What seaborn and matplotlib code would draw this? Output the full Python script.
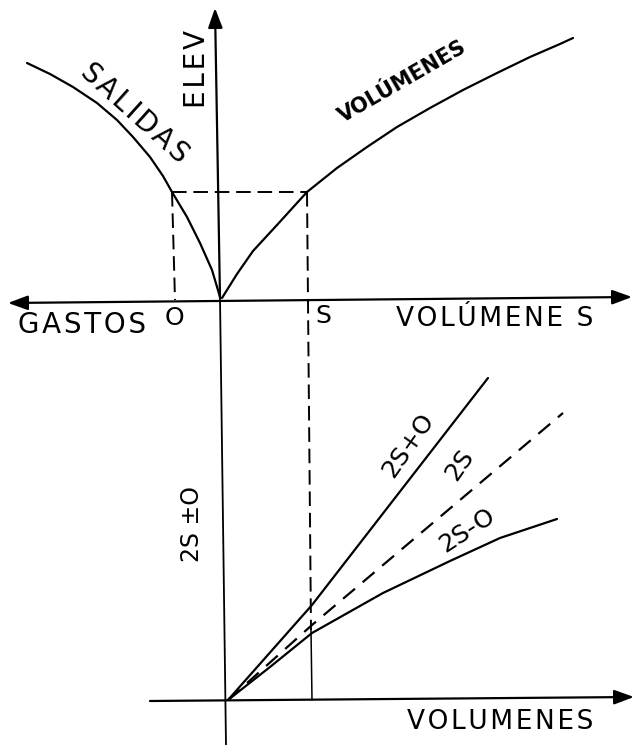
import numpy as np
import pandas as pd
import matplotlib
matplotlib.use("Agg")
import matplotlib.pyplot as plt
import seaborn as sns

sns.set_theme(style="white")
plt.rcParams['font.family'] = ['DejaVu Sans']
plt.rcParams['text.color'] = 'black'

# curves (pixel-like units, y grows downwards)
salidas_x = [27, 50, 73, 97, 117, 133, 150, 163, 172, 187, 200, 212, 220]
salidas_y = [63, 74, 87, 103, 120, 137, 157, 176, 192, 217, 243, 270, 297]

vol_x = [222, 237, 253, 277, 307, 337, 367, 397, 430, 463, 497, 530, 560, 573]
vol_y = [298, 274, 251, 225, 192, 168, 147, 127, 108, 90, 73, 57, 44, 38]

mas_x = [228, 312, 488]
mas_y = [700, 605, 378]

dos_x = [228, 312, 563]
dos_y = [700, 625, 413]

menos_x = [228, 270, 312, 383, 450, 500, 557]
menos_y = [700, 667, 633, 593, 561, 538, 519]


def spaced(s):
    return '\u200a'.join(s)


fig, ax = plt.subplots(figsize=(6.34, 7.45), dpi=100)
fig.subplots_adjust(left=0, right=1, bottom=0, top=1)
ax.set_xlim(0, 634)
ax.set_ylim(745, 0)
ax.axis('off')

lw = 1.6
for xs, ys, st in [(salidas_x, salidas_y, '-'), (vol_x, vol_y, '-'),
                   (mas_x, mas_y, '-'), (dos_x, dos_y, (0, (7, 4.5))),
                   (menos_x, menos_y, '-')]:
    df = pd.DataFrame({'x': xs, 'y': ys})
    sns.lineplot(data=df, x='x', y='y', sort=False, color='black', lw=lw,
                 linestyle=st, ax=ax)

head = '-|>,head_length=0.6,head_width=0.22'
arrow = dict(arrowstyle=head, color='black', lw=lw, mutation_scale=20,
             shrinkA=0, shrinkB=0)
arrow2 = dict(arrowstyle='<|-|>,head_length=0.6,head_width=0.22', color='black',
              lw=lw, mutation_scale=20, shrinkA=0, shrinkB=0)
# upper axes
ax.annotate('', xy=(632, 297), xytext=(8, 303), arrowprops=arrow2)
ax.annotate('', xy=(215, 8), xytext=(220, 298), arrowprops=arrow)
# lower axes
ax.plot([220, 226], [298, 745], color='black', lw=1.3)
ax.annotate('', xy=(634, 697), xytext=(150, 701), arrowprops=arrow)

# projection lines
dash = dict(color='black', lw=1.4, linestyle=(0, (7.5, 3.5)))
ax.plot([172, 307], [192, 192], **dash)
ax.plot([172, 175], [192, 300], **dash)
ax.plot([307, 311], [192, 630], **dash)
ax.plot([311, 312], [630, 700], color='black', lw=1.1)

# labels
ax.text(197, 69, spaced('ELEV'), rotation=90, fontsize=20, ha='center',
        va='center')
ax.text(134, 113, spaced('SALIDAS'), rotation=-42, fontsize=20, ha='center',
        va='center', rotation_mode='anchor')
ax.text(402, 82, 'VOLÚMENES', rotation=30, fontsize=15, fontweight='bold',
        ha='center', va='center', rotation_mode='anchor')
ax.text(18, 325, spaced('GASTOS'), fontsize=20, ha='left', va='center')
ax.text(174, 318, 'O', fontsize=18, ha='center', va='center')
ax.text(323, 316, 'S', fontsize=18, ha='center', va='center')
ax.text(495, 319, spaced('VOLÚMENE S'), fontsize=19, ha='center', va='center')
ax.text(408, 445, '2S+O', rotation=55, fontsize=18, ha='center', va='center',
        rotation_mode='anchor')
ax.text(460, 465, '2S', rotation=55, fontsize=18, ha='center', va='center',
        rotation_mode='anchor')
ax.text(467, 530, '2S-O', rotation=33, fontsize=18, ha='center', va='center',
        rotation_mode='anchor')
ax.text(192, 524, '2S ±O', rotation=90, fontsize=17, ha='center', va='center')
ax.text(500, 722, spaced('VOLUMENES'), fontsize=19, ha='center', va='center')

fig.savefig('out.png', dpi=100, facecolor='white')
